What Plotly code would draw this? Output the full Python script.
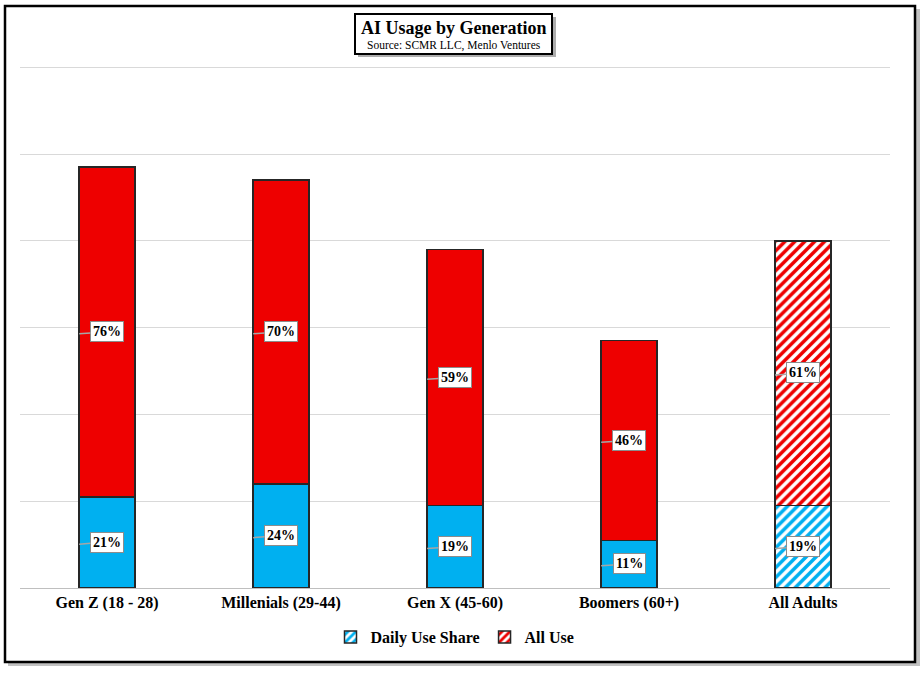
import plotly.graph_objects as go

categories = ["Gen Z (18 - 28)", "Millenials (29-44)", "Gen X (45-60)", "Boomers (60+)", "All Adults"]
daily_use = [21, 24, 19, 11, 19]
all_use = [76, 70, 59, 46, 61]

BLUE = "#00B0F0"
RED = "#EE0000"
FONT = "Liberation Serif"
W, H = 921, 675
L, R, T, B = 20, 31, 66, 87
PW, PH = W - L - R, H - T - B

def px(x):
    return (x - L) / PW

def py(y):
    return (H - B - y) / PH

fig = go.Figure()
line = dict(color="#262626", width=1.5)
n_solid = len(categories) - 1

def pat(c):
    return dict(shape="/", fgcolor=c, bgcolor="white", size=7, solidity=0.5, fgopacity=1)

fig.add_trace(go.Bar(x=categories[:n_solid], y=daily_use[:n_solid], name="<b>Daily Use Share</b>",
                     marker=dict(color=BLUE, line=line), width=0.32, showlegend=False,
                     legendgroup="d"))
fig.add_trace(go.Bar(x=categories[n_solid:], y=daily_use[n_solid:], name="<b>Daily Use Share</b>",
                     marker=dict(color="white", line=line, pattern=pat(BLUE)),
                     width=0.32, legendgroup="d"))
fig.add_trace(go.Bar(x=categories[:n_solid], y=all_use[:n_solid], name="<b>All Use</b>",
                     marker=dict(color=RED, line=line), width=0.32, showlegend=False,
                     legendgroup="a"))
fig.add_trace(go.Bar(x=categories[n_solid:], y=all_use[n_solid:], name="<b>All Use</b>",
                     marker=dict(color="white", line=line, pattern=pat(RED)),
                     width=0.32, legendgroup="a"))

annotations = []
for i, (d, a) in enumerate(zip(daily_use, all_use)):
    for val, mid in ((d, d / 2), (a, d + a / 2)):
        annotations.append(dict(
            x=i - 0.16, y=mid - 0.4, xref="x", yref="y",
            text=f"<b>{val}%</b>", showarrow=True, arrowhead=0, arrowwidth=1.5,
            arrowcolor="#A6A6A6", ax=28, ay=-2, bgcolor="white",
            bordercolor="#8C8C8C", borderwidth=1, borderpad=2,
            font=dict(family=FONT, size=14, color="black")))

annotations.append(dict(
    x=px(454), y=py(28), xref="paper", yref="paper", showarrow=False,
    xanchor="center", yanchor="middle",
    text="<b>AI Usage by Generation</b>", font=dict(family=FONT, size=18, color="black")))
annotations.append(dict(
    x=px(454), y=py(45), xref="paper", yref="paper", showarrow=False,
    xanchor="center", yanchor="middle",
    text="Source: SCMR LLC, Menlo Ventures", font=dict(family=FONT, size=11.5, color="black")))

shapes = [
    dict(type="rect", xref="paper", yref="paper", x0=px(8), x1=px(920), y0=py(9), y1=py(666),
         fillcolor="#9A9A9A", line=dict(width=0), layer="below", opacity=0.6),
    dict(type="rect", xref="paper", yref="paper", x0=px(5), x1=px(915), y0=py(6), y1=py(662),
         fillcolor="white", line=dict(color="black", width=2.5), layer="below"),
    dict(type="rect", xref="paper", yref="paper", x0=px(358), x1=px(556), y0=py(17), y1=py(57),
         fillcolor="#8A8A8A", line=dict(width=0), layer="above", opacity=0.7),
    dict(type="rect", xref="paper", yref="paper", x0=px(355), x1=px(552), y0=py(14), y1=py(54),
         fillcolor="white", line=dict(color="black", width=2), layer="above"),
]

fig.update_layout(
    width=W, height=H,
    margin=dict(l=L, r=R, t=T, b=B),
    paper_bgcolor="white", plot_bgcolor="rgba(0,0,0,0)",
    barmode="stack",
    xaxis=dict(showgrid=False, showline=True, linecolor="#BFBFBF", linewidth=1,
               tickfont=dict(family=FONT, size=16, color="black"), ticks="",
               tickprefix="<b>", ticksuffix="</b>"),
    yaxis=dict(range=[0, 120.3], tickvals=[20, 40, 60, 80, 100, 120], showticklabels=False,
               showgrid=True, gridcolor="#D9D9D9", gridwidth=1, zeroline=False),
    legend=dict(orientation="h", x=0.5, xanchor="center", y=py(637), yanchor="middle",
                font=dict(family=FONT, size=16, color="black"), traceorder="normal",
                bgcolor="rgba(0,0,0,0)", itemwidth=30),
    annotations=annotations,
    shapes=shapes,
    font=dict(family=FONT),
)

fig.write_html("out.html", config={"displayModeBar": False},
               post_script="document.body.style.margin='0';document.body.style.padding='0';")
